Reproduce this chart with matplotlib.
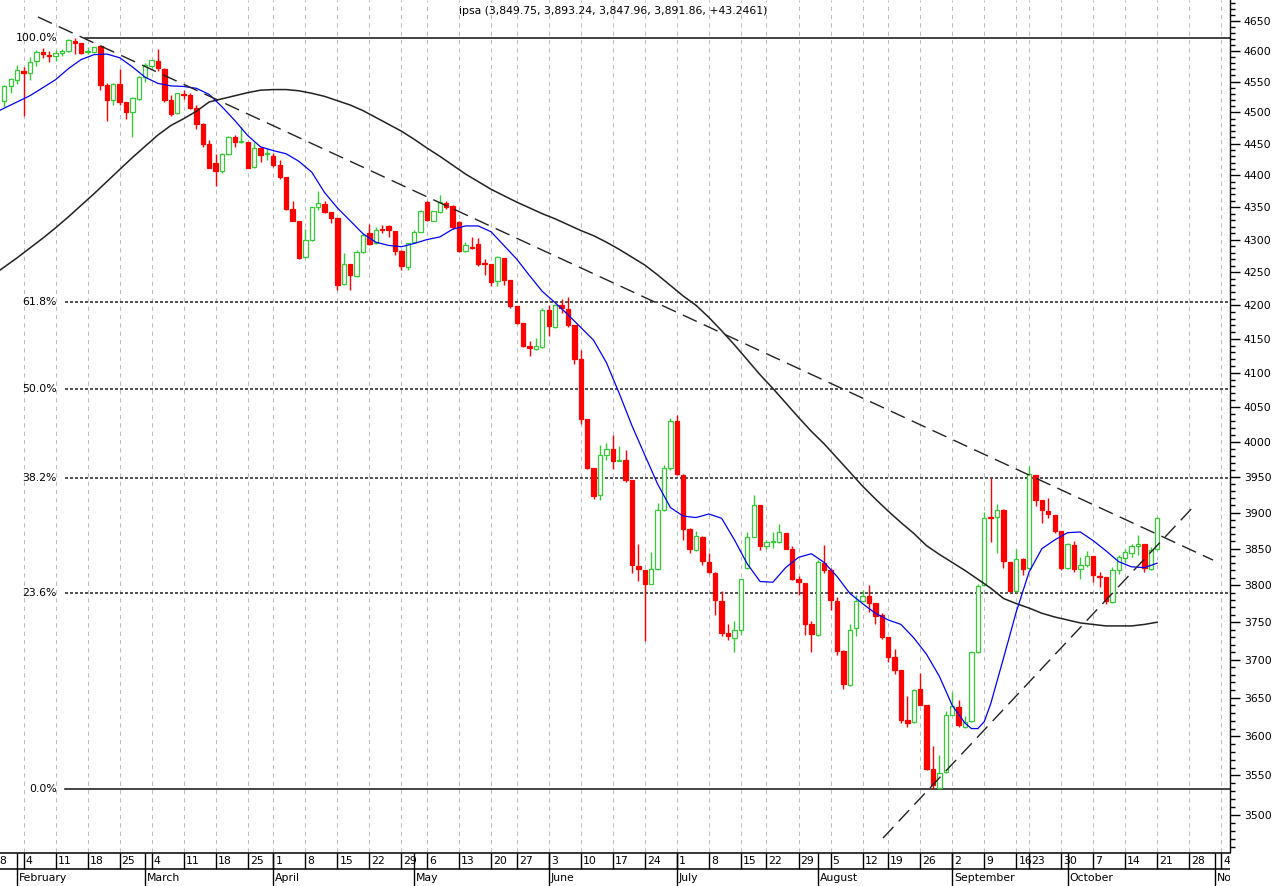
import numpy as np
import pandas as pd
import matplotlib
matplotlib.use('Agg')
import matplotlib.pyplot as plt
from matplotlib.ticker import NullFormatter

plt.rcParams['font.family'] = ['DejaVu Sans']

# Calendario de ruedas (Chile 2013); las fechas futuras se dejan como dias habiles
feriados = ['2013-03-29', '2013-05-01', '2013-05-21', '2013-07-16',
            '2013-08-15', '2013-09-18', '2013-09-19', '2013-09-20']
dias = pd.bdate_range('2013-01-28', '2013-11-08')
dias = dias[~dias.isin(pd.to_datetime(feriados))]
inicio = 2  # 30 de enero = primera vela

apertura = [4518, 4542, 4552, 4568, 4564, 4584, 4598, 4593, 4592, 4596,
            4600, 4617, 4613, 4598, 4599, 4608, 4544, 4520, 4546, 4517,
            4501, 4522, 4558, 4575, 4584, 4570, 4520, 4499, 4530, 4529,
            4507, 4481, 4450, 4419, 4406, 4434, 4460, 4452, 4452, 4413,
            4443, 4433, 4430, 4416, 4397, 4348, 4329, 4273, 4299, 4350,
            4355, 4343, 4333, 4232, 4262, 4245, 4281, 4310, 4294, 4316,
            4321, 4313, 4283, 4258, 4296, 4312, 4358, 4329, 4343, 4356,
            4352, 4327, 4283, 4289, 4293, 4264, 4262, 4237, 4271, 4238,
            4199, 4173, 4139, 4135, 4138, 4193, 4167, 4200, 4194, 4171,
            4120, 4032, 3963, 3924, 3981, 3990, 3973, 3974, 3946, 3826,
            3821, 3802, 3822, 3903, 3962, 4030, 3953, 3877, 3848, 3866,
            3831, 3817, 3779, 3735, 3729, 3740, 3823, 3866, 3910, 3854,
            3859, 3859, 3872, 3850, 3808, 3803, 3748, 3733, 3830, 3821,
            3779, 3712, 3667, 3742, 3779, 3785, 3776, 3760, 3730, 3703,
            3686, 3621, 3618, 3661, 3640, 3558, 3534, 3554, 3628, 3638,
            3612, 3620, 3710, 3800, 3894, 3894, 3904, 3831, 3792, 3836,
            3823, 3953, 3918, 3902, 3896, 3874, 3823, 3855, 3822, 3827,
            3840, 3812, 3811, 3777, 3821, 3837, 3844, 3853, 3856, 3822,
            3849.75]
maximo = [4544, 4555, 4577, 4574, 4590, 4602, 4605, 4600, 4602, 4604,
          4619, 4621, 4614, 4606, 4607, 4610, 4547, 4547, 4570, 4517,
          4525, 4559, 4580, 4586, 4604, 4572, 4529, 4532, 4536, 4531,
          4512, 4483, 4456, 4434, 4435, 4462, 4464, 4477, 4453, 4452,
          4445, 4443, 4435, 4424, 4397, 4360, 4329, 4316, 4351, 4376,
          4359, 4343, 4333, 4279, 4262, 4284, 4310, 4324, 4320, 4322,
          4322, 4313, 4284, 4295, 4315, 4346, 4359, 4344, 4369, 4360,
          4353, 4328, 4297, 4304, 4302, 4270, 4262, 4275, 4271, 4238,
          4199, 4173, 4147, 4151, 4196, 4200, 4202, 4210, 4212, 4171,
          4133, 4032, 3963, 3995, 3998, 4010, 3994, 3988, 3946, 3857,
          3821, 3846, 3914, 3967, 4034, 4038, 3954, 3878, 3874, 3867,
          3844, 3818, 3792, 3748, 3751, 3809, 3873, 3924, 3910, 3862,
          3873, 3884, 3872, 3853, 3812, 3803, 3751, 3834, 3855, 3823,
          3784, 3713, 3748, 3787, 3794, 3800, 3776, 3762, 3730, 3714,
          3686, 3652, 3661, 3683, 3640, 3587, 3576, 3633, 3657, 3647,
          3626, 3712, 3802, 3901, 3948, 3912, 3905, 3831, 3849, 3837,
          3965, 3953, 3918, 3920, 3896, 3874, 3858, 3861, 3838, 3847,
          3840, 3818, 3811, 3825, 3841, 3849, 3856, 3869, 3856, 3852,
          3893.24]
minimo = [4509, 4532, 4546, 4494, 4552, 4575, 4588, 4582, 4584, 4592,
          4598, 4595, 4595, 4595, 4597, 4536, 4487, 4512, 4512, 4489,
          4461, 4520, 4550, 4572, 4568, 4517, 4494, 4497, 4521, 4505,
          4474, 4445, 4411, 4383, 4404, 4432, 4445, 4451, 4411, 4412,
          4421, 4424, 4413, 4394, 4345, 4328, 4270, 4272, 4298, 4346,
          4341, 4325, 4223, 4231, 4223, 4243, 4280, 4292, 4293, 4310,
          4304, 4276, 4253, 4253, 4294, 4311, 4329, 4328, 4341, 4348,
          4317, 4281, 4281, 4285, 4259, 4246, 4229, 4229, 4230, 4196,
          4172, 4138, 4124, 4134, 4137, 4154, 4166, 4188, 4168, 4113,
          4026, 3961, 3919, 3918, 3974, 3961, 3972, 3943, 3816, 3805,
          3725, 3802, 3821, 3902, 3960, 3953, 3862, 3844, 3847, 3828,
          3816, 3760, 3731, 3726, 3710, 3734, 3822, 3866, 3848, 3850,
          3851, 3858, 3849, 3807, 3787, 3733, 3710, 3732, 3816, 3767,
          3706, 3661, 3666, 3731, 3778, 3764, 3748, 3728, 3697, 3681,
          3617, 3612, 3617, 3640, 3557, 3533, 3533, 3553, 3627, 3612,
          3611, 3619, 3709, 3799, 3859, 3844, 3823, 3791, 3791, 3814,
          3822, 3909, 3885, 3892, 3871, 3821, 3822, 3818, 3809, 3825,
          3804, 3797, 3775, 3776, 3815, 3830, 3838, 3841, 3818, 3821,
          3847.96]
cierre = [4543, 4554, 4569, 4564, 4582, 4599, 4595, 4592, 4596, 4600,
          4618, 4613, 4597, 4600, 4606, 4544, 4520, 4546, 4517, 4501,
          4523, 4558, 4577, 4585, 4572, 4520, 4498, 4531, 4528, 4507,
          4481, 4450, 4412, 4406, 4434, 4460, 4453, 4454, 4412, 4443,
          4432, 4435, 4416, 4398, 4348, 4329, 4271, 4300, 4350, 4356,
          4343, 4333, 4231, 4262, 4246, 4281, 4307, 4293, 4315, 4315,
          4314, 4283, 4260, 4294, 4311, 4344, 4330, 4344, 4358, 4351,
          4320, 4282, 4291, 4287, 4262, 4262, 4235, 4273, 4238, 4199,
          4173, 4139, 4136, 4140, 4193, 4169, 4200, 4196, 4171, 4120,
          4032, 3962, 3923, 3981, 3990, 3973, 3974, 3946, 3827, 3822,
          3802, 3822, 3904, 3963, 4030, 3954, 3877, 3849, 3867, 3833,
          3818, 3780, 3736, 3731, 3740, 3808, 3866, 3910, 3854, 3859,
          3860, 3873, 3850, 3808, 3804, 3748, 3734, 3832, 3821, 3780,
          3712, 3668, 3740, 3778, 3785, 3776, 3758, 3730, 3703, 3687,
          3621, 3617, 3660, 3641, 3558, 3538, 3553, 3628, 3639, 3614,
          3619, 3710, 3799, 3893, 3893, 3904, 3833, 3792, 3836, 3822,
          3954, 3918, 3904, 3898, 3874, 3823, 3856, 3822, 3827, 3840,
          3814, 3811, 3778, 3821, 3838, 3846, 3854, 3857, 3823, 3848.61,
          3891.86]

# medias moviles (indice de vela, valor)
ma_rapida_idx = [-1, 0, 2, 4, 6, 8, 10, 12, 14, 16, 18, 20, 22, 24, 26, 28, 30,
                 32, 34, 36, 38, 40, 42, 44, 46, 48, 50, 52, 54, 56, 58, 60, 62,
                 64, 66, 68, 70, 72, 74, 76, 78, 80, 82, 84, 86, 88, 90, 92, 94,
                 96, 98, 100, 102, 104, 106, 108, 110, 112, 114, 116, 118, 120,
                 122, 124, 126, 128, 130, 132, 134, 136, 138, 140, 142, 144, 146,
                 148, 150, 151, 152, 153, 154, 156, 158, 160, 162, 164, 166, 168,
                 170, 172, 174, 176, 178, 180]
ma_rapida = [4502, 4507, 4517, 4527, 4540, 4553, 4571, 4586, 4594, 4595, 4589,
             4574, 4557, 4547, 4543, 4542, 4539, 4529, 4509, 4487, 4463, 4445,
             4439, 4434, 4422, 4405, 4373, 4349, 4329, 4309, 4296, 4291, 4289,
             4294, 4300, 4304, 4316, 4321, 4321, 4312, 4291, 4270, 4245, 4221,
             4204, 4186, 4167, 4148, 4115, 4070, 4023, 3981, 3940, 3907, 3895,
             3893, 3898, 3892, 3862, 3829, 3805, 3804, 3824, 3838, 3843, 3831,
             3812, 3789, 3775, 3762, 3753, 3747, 3729, 3707, 3678, 3640, 3617,
             3610, 3610, 3619, 3642, 3702, 3764, 3818, 3850, 3862, 3872, 3873,
             3861, 3847, 3832, 3825, 3824, 3830]
ma_lenta_idx = [-1] + list(range(0, 181, 2))
ma_lenta = [4251, 4258, 4272, 4287, 4302, 4318, 4335, 4353, 4371, 4390, 4409,
            4428, 4446, 4464, 4479, 4490, 4502, 4517, 4522, 4527, 4532, 4536,
            4537, 4537, 4535, 4531, 4526, 4519, 4512, 4503, 4492, 4481, 4470,
            4457, 4443, 4430, 4416, 4402, 4390, 4378, 4368, 4358, 4349, 4340,
            4332, 4323, 4314, 4306, 4296, 4285, 4273, 4261, 4246, 4230, 4214,
            4200, 4182, 4162, 4141, 4119, 4097, 4077, 4056, 4035, 4015, 3997,
            3977, 3957, 3937, 3919, 3902, 3886, 3871, 3854, 3842, 3831, 3820,
            3808, 3796, 3782, 3775, 3769, 3762, 3757, 3753, 3749, 3747, 3745,
            3745, 3745, 3747, 3750]

# niveles de Fibonacci
fib_alto, fib_bajo = 4620.9, 3532.7
fib_ratios = [1.0, 0.618, 0.5, 0.382, 0.236, 0.0]
fib_textos = ['100.0%', '61.8%', '50.0%', '38.2%', '23.6%', '0.0%']

# lineas de tendencia (indice de vela, precio)
tend_baja = [(5.26, 4656.3), (188.71, 3834.3)]
tend_alza = [(137.19, 3471.4), (185.9, 3910.5)]

titulo = 'ipsa (3,849.75, 3,893.24, 3,847.96, 3,891.86, +43.2461)'
meses = {2: 'February', 3: 'March', 4: 'April', 5: 'May', 6: 'June',
         7: 'July', 8: 'August', 9: 'September', 10: 'October', 11: 'November'}

W, H = 1282, 886
px = 6.405  # pixeles por vela
xmin = inicio - 4.3 / px
xmax = inicio + (1230 - 4.3) / px

fig = plt.figure(figsize=(W / 100, H / 100), dpi=100)
ax = fig.add_axes([0, 34 / H, 1230 / W, 852 / H])
ax.set_yscale('log')
ax.set_xlim(xmin, xmax)
ax.set_ylim(3454.1, 4684.7)

semana = dias.isocalendar().week.values
ini_semana = [i for i in range(len(dias)) if i == 0 or semana[i] != semana[i - 1]]
ini_mes = [i for i in range(1, len(dias)) if dias[i].month != dias[i - 1].month]

for i in ini_semana:
    ax.axvline(i, color='#bdbdbd', lw=0.75, ls=(0, (4, 4)), zorder=0)

# velas
x = np.arange(len(cierre)) + inicio
o = np.array(apertura); c = np.array(cierre)
hi = np.array(maximo); lo = np.array(minimo)
sube = c >= o
verde, rojo = '#33cc33', '#ff0000'
cols = np.where(sube, verde, rojo)
ax.vlines(x, lo, hi, colors=cols, lw=1.0, zorder=3)
base = np.minimum(o, c)
alto = np.maximum(np.abs(c - o), 0.8)
ax.bar(x[sube], alto[sube], bottom=base[sube], width=0.68, facecolor='white',
       edgecolor=verde, lw=0.9, zorder=4)
ax.bar(x[~sube], alto[~sube], bottom=base[~sube], width=0.68, facecolor=rojo,
       edgecolor=rojo, lw=0.9, zorder=4)

ax.plot(np.array(ma_lenta_idx) + inicio, ma_lenta, color='#222222', lw=1.1, zorder=5)
ax.plot(np.array(ma_rapida_idx) + inicio, ma_rapida, color='#0000ff', lw=0.9, zorder=5)

# Fibonacci
x_fib = inicio + (65 - 4.3) / px
x_fib100 = inicio + (85 - 4.3) / px
x_txt = inicio + (57 - 4.3) / px
for r, t in zip(fib_ratios, fib_textos):
    nivel = fib_bajo + r * (fib_alto - fib_bajo)
    x0 = x_fib100 if r == 1.0 else x_fib
    if r in (0.0, 1.0):
        ax.plot([x0, xmax], [nivel, nivel], color='#111111', lw=1.1, zorder=2)
    else:
        ax.plot([x0, xmax], [nivel, nivel], color='#333333', lw=1.2,
                ls=(0, (1.8, 1.2)), zorder=2)
    ax.text(x_txt, nivel, t, ha='right', va='center', fontsize=7.8, zorder=6)

for tl in (tend_baja, tend_alza):
    ax.plot([tl[0][0] + inicio, tl[1][0] + inicio], [tl[0][1], tl[1][1]],
            color='#222222', lw=1.0, dashes=(11, 5.5), zorder=5)

for s in ('left', 'top', 'bottom'):
    ax.spines[s].set_visible(False)
ax.spines['right'].set_linewidth(1.0)
ax.set_xticks([])
ax.yaxis.tick_right()
mayores = list(range(3500, 4651, 50))
ax.set_yticks(mayores, labels=[str(v) for v in mayores])
menores = [v for v in range(3460, 4690, 10) if v % 50 != 0]
ax.set_yticks(menores, minor=True)
ax.yaxis.set_minor_formatter(NullFormatter())
ax.tick_params(axis='y', which='major', length=7, width=1, pad=3, labelsize=7.8)
ax.tick_params(axis='y', which='minor', length=3.5, width=1)

fig.text(613 / W, 1 - 11 / H, titulo, ha='center', va='center', fontsize=7.8)

# franja de fechas
ax2 = fig.add_axes([0, 0, 1230 / W, 34 / H])
ax2.set_xlim(xmin, xmax)
ax2.set_ylim(34, 0)
ax2.axis('off')
ax2.plot([xmin, xmax], [0.5, 0.5], color='black', lw=1.1, clip_on=False)
ax2.plot([xmin, xmax], [17, 17], color='black', lw=1.1)
ax2.vlines(ini_semana, 0.5, 17, color='black', lw=1.0)
ax2.vlines(ini_mes, 0.5, 34, color='black', lw=1.0)
for i in ini_semana:
    ax2.text(i + 2 / px, 9.2, str(dias[i].day), ha='left', va='center',
             fontsize=7.8, clip_on=True)
for i in ini_mes:
    ax2.text(i + 2 / px, 26, meses[dias[i].month], ha='left', va='center',
             fontsize=7.8, clip_on=True)

fig.savefig('out.png', dpi=100)
